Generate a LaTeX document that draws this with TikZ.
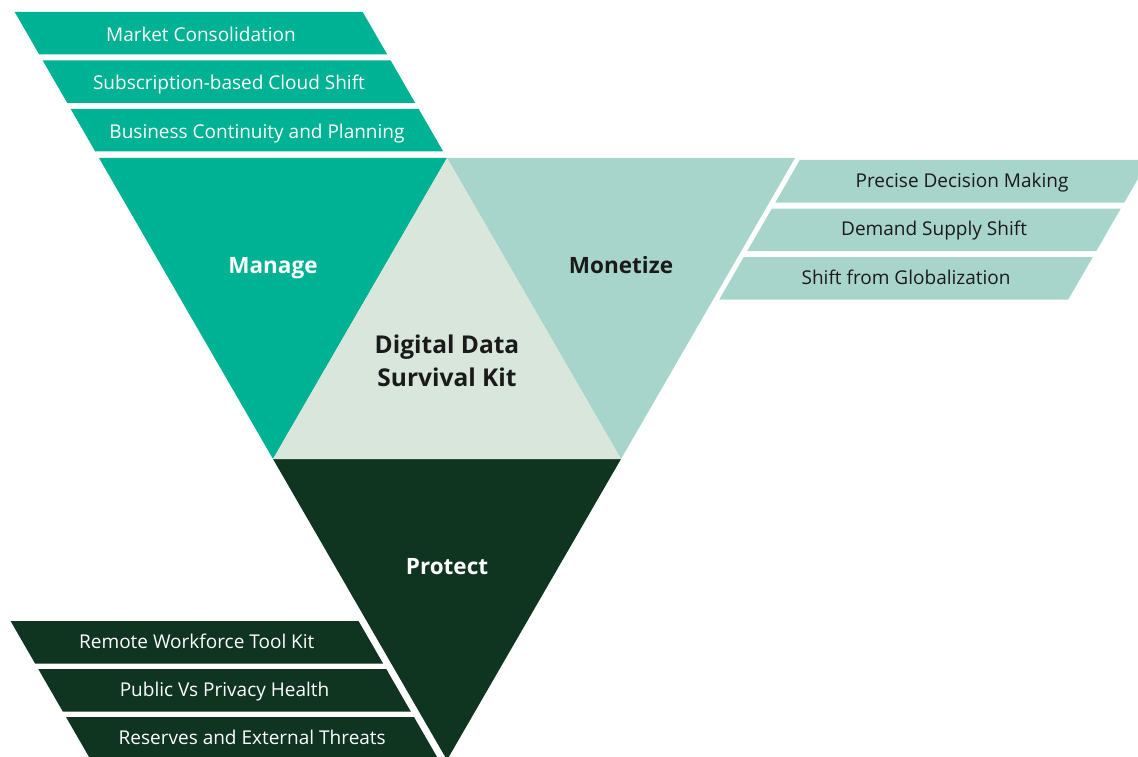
\documentclass[tikz,border=0pt]{standalone}
\usepackage{fontspec}
\setmainfont{Open Sans}
\usetikzlibrary{positioning}
\definecolor{managegreen}{HTML}{00B294}
\definecolor{monetizegreen}{HTML}{A8D5CB}
\definecolor{coregreen}{HTML}{D8E6DB}
\definecolor{protectgreen}{HTML}{0F3420}
\definecolor{darktext}{HTML}{1A1A1A}
\begin{document}
\begin{tikzpicture}[
    x=1pt,y=-1pt,
    label/.style={font=\fontsize{22.5}{33}\selectfont\bfseries,align=center,inner sep=0pt},
    item/.style={font=\fontsize{19}{22}\selectfont,inner sep=0pt,anchor=base}
    ]

    \clip (0,0) rectangle (1138,757);

    \fill[managegreen] (99,158) -- (447,158) -- (273,459) -- cycle;
    \fill[monetizegreen] (447,158) -- (795,158) -- (621,459) -- cycle;
    \fill[protectgreen] (273,459) -- (621,459) -- (447,760) -- cycle;
    \fill[coregreen] (447,158) -- (621,459) -- (273,459) -- cycle;

    \node(manage) [label,text=white,anchor=base] at (273,273) {Manage};
    \node(monetize) [label,text=darktext,anchor=base] at (621,273) {Monetize};
    \node(protect) [label,text=white,anchor=base] at (447,574) {Protect};
    \node(core) [label,text=darktext,font=\fontsize{24.5}{33}\selectfont\bfseries] at (447,361) {Digital Data\\Survival Kit};

    \foreach \t [count=\i from 0] in {Market Consolidation,Subscription-based Cloud Shift,Business Continuity and Planning} {
      \pgfmathsetmacro\ya{12+48.5*\i}
      \pgfmathsetmacro\yb{\ya+42.5}
      \pgfmathsetmacro\xa{99-(158-\ya)*0.5774}
      \pgfmathsetmacro\xb{99-(158-\yb)*0.5774}
      \fill[managegreen] (\xa,\ya) -- (\xa+348,\ya) -- (\xb+348,\yb) -- (\xb,\yb) -- cycle;
      \node(m\i) [item,text=white] at (\xa/2+\xb/2+174,\ya+29.5) {\t};
    }

    \foreach \t [count=\i from 0] in {Precise Decision Making,Demand Supply Shift,Shift from Globalization} {
      \pgfmathsetmacro\ya{160+48.5*\i}
      \pgfmathsetmacro\yb{\ya+42.5}
      \pgfmathsetmacro\xa{801-(\ya-158)*0.5774}
      \pgfmathsetmacro\xb{801-(\yb-158)*0.5774}
      \fill[monetizegreen] (\xa,\ya) -- (\xa+349,\ya) -- (\xb+349,\yb) -- (\xb,\yb) -- cycle;
      \node(n\i) [item,text=darktext] at (\xa/2+\xb/2+174.5,\ya+27) {\t};
    }

    \foreach \t [count=\i from 0] in {Remote Workforce Tool Kit,Public Vs Privacy Health,Reserves and External Threats} {
      \pgfmathsetmacro\ya{621+48*\i}
      \pgfmathsetmacro\yb{\ya+42.5}
      \pgfmathsetmacro\xa{265+(\ya-459)*0.5774}
      \pgfmathsetmacro\xb{265+(\yb-459)*0.5774}
      \fill[protectgreen] (\xa-348,\ya) -- (\xa,\ya) -- (\xb,\yb) -- (\xb-348,\yb) -- cycle;
      \node(p\i) [item,text=white] at (\xa/2+\xb/2-174,\ya+27) {\t};
    }

  \end{tikzpicture}
\end{document}
